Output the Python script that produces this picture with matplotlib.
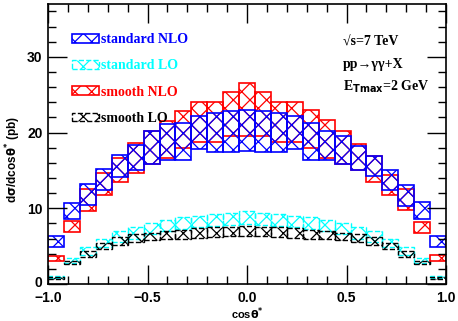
import numpy as np
import matplotlib
matplotlib.use("Agg")
from matplotlib import pyplot as plt
from matplotlib.patches import Patch
from matplotlib.transforms import ScaledTranslation

# bin edges of cos(theta*), 25 bins of width 0.08
edges = np.linspace(-1.0, 1.0, 26)

# standard NLO band (pb)
std_nlo_lo = [4.9, 8.6, 10.5, 12.4, 14.2, 15.0, 15.8, 16.4, 16.4, 17.8, 17.5, 17.5, 17.6,
              17.5, 17.5, 17.8, 16.4, 16.4, 15.9, 15.1, 14.3, 12.4, 10.3, 8.6, 4.9]
std_nlo_hi = [6.3, 10.7, 13.2, 15.2, 17.1, 18.4, 20.2, 21.1, 21.3, 22.2, 22.6, 22.8, 23.0,
              22.8, 22.6, 22.2, 21.3, 20.2, 19.5, 18.2, 16.9, 15.1, 13.1, 10.8, 6.3]

# smooth NLO band (pb)
smo_nlo_lo = [3.0, 6.85, 9.7, 11.8, 13.5, 14.7, 15.8, 16.6, 18.0, 18.8, 18.8, 19.5, 19.5,
              19.5, 18.8, 18.8, 18.0, 16.6, 15.8, 15.1, 13.5, 11.8, 9.8, 6.8, 3.0]
smo_nlo_hi = [3.75, 8.3, 12.5, 14.7, 16.6, 18.6, 20.2, 21.5, 22.9, 24.0, 24.0, 25.3, 26.5,
              25.3, 24.0, 24.0, 23.0, 21.7, 20.2, 18.5, 16.9, 14.4, 12.6, 8.25, 3.8]

# standard LO band (pb)
std_lo_lo = [0.8, 2.8, 3.9, 4.9, 5.6, 6.0, 6.6, 7.0, 7.3, 7.5, 7.7, 7.8, 7.9,
             7.8, 7.7, 7.5, 7.3, 7.0, 6.6, 6.0, 5.6, 4.9, 3.9, 2.8, 0.8]
std_lo_hi = [1.1, 3.4, 4.9, 6.0, 7.0, 7.5, 8.0, 8.4, 8.8, 9.0, 9.2, 9.4, 9.6,
             9.4, 9.2, 9.0, 8.8, 8.4, 8.0, 7.5, 7.0, 6.0, 4.9, 3.4, 1.1]

# smooth LO band (pb)
smo_lo_lo = [0.7, 2.6, 3.6, 4.6, 5.2, 5.5, 5.8, 5.9, 6.0, 6.1, 6.2, 6.3, 6.3,
             6.3, 6.2, 6.1, 6.0, 5.9, 5.8, 5.5, 5.2, 4.6, 3.6, 2.6, 0.7]
smo_lo_hi = [1.0, 3.1, 4.4, 5.4, 6.2, 6.6, 6.8, 7.0, 7.2, 7.4, 7.5, 7.6, 7.7,
             7.6, 7.5, 7.4, 7.2, 7.0, 6.8, 6.6, 6.2, 5.4, 4.4, 3.1, 1.0]

plt.rcParams['hatch.linewidth'] = 0.9
plt.rcParams['font.family'] = ['Liberation Sans', 'DejaVu Sans']
plt.rcParams['font.weight'] = 'bold'
plt.rcParams['mathtext.default'] = 'bf'

fig = plt.figure(figsize=(4.58, 3.21), dpi=100)
ax = fig.add_axes([0.105, 0.115, 0.869, 0.873])


def band(lo, hi, color, ls, lw):
    lo = np.array(lo)
    hi = np.array(hi)
    ax.bar(edges[:-1], hi - lo, width=np.diff(edges), bottom=lo, align='edge',
           facecolor='none', edgecolor=color, hatch='xx', linewidth=lw, linestyle=ls)


# LO bands first, then NLO bands (blue drawn over red)
band(std_lo_lo, std_lo_hi, '#00ffff', '--', 1.0)
band(smo_lo_lo, smo_lo_hi, 'black', '--', 1.0)
band(smo_nlo_lo, smo_nlo_hi, '#ff0000', '-', 1.2)
band(std_nlo_lo, std_nlo_hi, '#0000ff', '-', 1.2)

ax.set_xlim(-1.0, 1.0)
ax.set_ylim(0, 37)
ax.set_xticks([-1.0, -0.5, 0.0, 0.5, 1.0])
ax.set_xticklabels(['\u22121.0', '\u22120.5', '0.0', '0.5', '1.0'])
ax.set_xticks(np.arange(-1.0, 1.01, 0.1), minor=True)
ax.set_yticks([0, 10, 20, 30])
ax.set_yticks(np.arange(0, 37, 2), minor=True)
ax.tick_params(which='both', direction='in', top=True, right=True, labelsize=10)
ax.tick_params(which='major', length=14, width=1.0)
ax.tick_params(which='minor', length=6, width=1.0)
ax.tick_params(axis='x', pad=5)
ax.tick_params(axis='y', pad=4)
for s in ax.spines.values():
    s.set_linewidth(1.2)

# lift the "0" label a little so it clears "-1.0"
zero_lbl = ax.get_yticklabels()[0]
zero_lbl.set_transform(zero_lbl.get_transform() + ScaledTranslation(0, 3 / 100, fig.dpi_scale_trans))

# axis labels placed in figure pixels
fig.text(247 / 458, 1 - 314 / 321, r'cos$\theta^{*}$', fontsize=8, ha='center', va='center')
fig.text(13 / 458, 1 - 160 / 321, r'd$\sigma$/dcos$\theta^{*}$ (pb)', fontsize=8.5,
         ha='center', va='center', rotation=90)

# legend
handles = [Patch(facecolor='none', edgecolor='#0000ff', hatch='xx', linestyle='-', linewidth=1.2),
           Patch(facecolor='none', edgecolor='#00ffff', hatch='xx', linestyle='--'),
           Patch(facecolor='none', edgecolor='#ff0000', hatch='xx', linestyle='-', linewidth=1.2),
           Patch(facecolor='none', edgecolor='black', hatch='xx', linestyle='--')]
labels = ['standard NLO', 'standard LO', 'smooth NLO', 'smooth LO']
colors = ['#0000ff', '#00ffff', '#ff0000', 'black']
leg = ax.legend(handles, labels, loc='upper left', bbox_to_anchor=(0.045, 0.915),
                frameon=False, handlelength=2.0, handleheight=0.6, handletextpad=0.15,
                labelspacing=0.95, borderaxespad=0,
                prop={'family': ['Liberation Serif', 'DejaVu Serif'], 'weight': 'bold', 'size': 10})
for t, c in zip(leg.get_texts(), colors):
    t.set_color(c)

# process info
info_font = {'family': ['Liberation Serif', 'DejaVu Serif'], 'weight': 'bold', 'size': 10}
ax.text(0.48, 32.0, '\u221As=7 TeV', va='center', **info_font)
ax.text(0.48, 29.0, 'pp\u2192\u03b3\u03b3+X', va='center', **info_font)
ax.text(0.48, 26.1, r'E$_{\mathbf{Tmax}}$=2 GeV', va='center', **info_font)

fig.savefig('out.png', dpi=100)
